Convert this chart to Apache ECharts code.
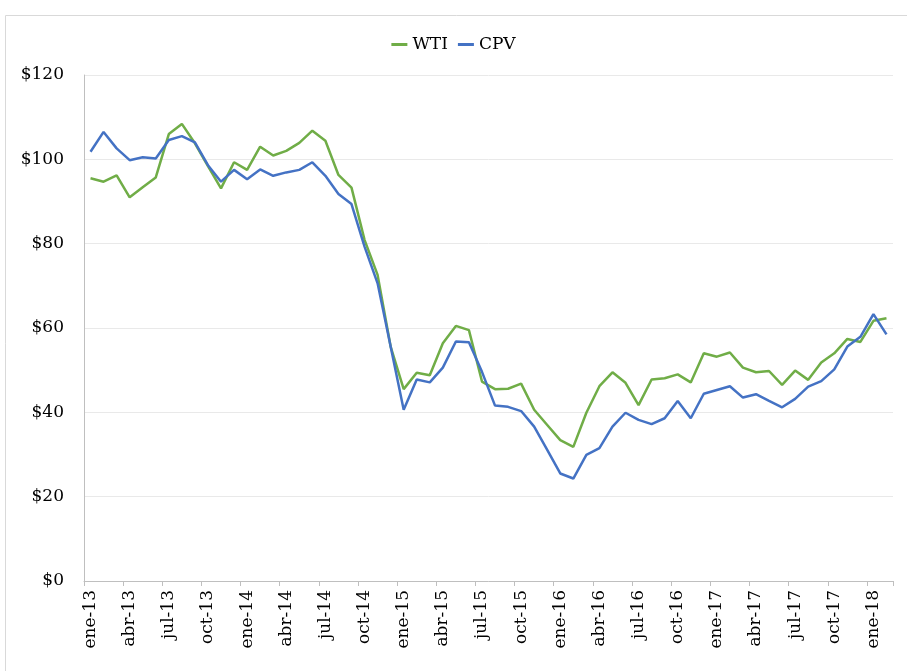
<!DOCTYPE html>
<html>
<head>
<meta charset="utf-8">
<script src="https://cdn.jsdelivr.net/npm/echarts@6/dist/echarts.min.js"></script>
<style>
  html, body { margin: 0; padding: 0; background: #fff; }
  #chart { width: 907px; height: 671px; }
</style>
</head>
<body>
<div id="chart"></div>
<script>
// meses ene-13 .. feb-18
var meses = ['ene', 'feb', 'mar', 'abr', 'may', 'jun', 'jul', 'ago', 'sep', 'oct', 'nov', 'dic']
var anios = ['13', '14', '15', '16', '17', '18']
var categorias = []
anios.forEach(function (a) {
  meses.forEach(function (m) { categorias.push(m + '-' + a) })
})
categorias = categorias.slice(0, 62)

var wti = [
  95.5, 94.7, 96.2, 91.0, 93.4, 95.7, 106.0, 108.4, 103.8, 98.4, 93.1, 99.3,
  97.5, 103.0, 100.9, 102.0, 103.9, 106.8, 104.4, 96.3, 93.3, 80.9, 72.6, 55.6,
  45.5, 49.4, 48.8, 56.4, 60.5, 59.5, 47.3, 45.5, 45.6, 46.8, 40.6, 37.0,
  33.4, 31.8, 39.9, 46.2, 49.5, 47.0, 41.7, 47.8, 48.1, 49.0, 47.1, 54.0,
  53.2, 54.2, 50.6, 49.5, 49.8, 46.5, 49.9, 47.7, 51.8, 54.0, 57.4, 56.7,
  61.7, 62.3
]
var cpv = [
  101.8, 106.5, 102.6, 99.8, 100.5, 100.2, 104.6, 105.5, 104.0, 98.6, 94.7, 97.5,
  95.3, 97.6, 96.1, 96.9, 97.5, 99.3, 96.1, 91.8, 89.4, 79.3, 70.6, 55.6,
  40.6, 47.8, 47.1, 50.6, 56.8, 56.6, 49.6, 41.6, 41.3, 40.3, 36.6, 31.1,
  25.5, 24.3, 29.9, 31.5, 36.6, 39.9, 38.2, 37.2, 38.6, 42.7, 38.6, 44.4,
  45.3, 46.2, 43.5, 44.3, 42.7, 41.2, 43.2, 46.1, 47.4, 50.2, 55.6, 57.9,
  63.3, 58.5
]

var fuente = 'Georgia, "DejaVu Serif", serif'

var chart = echarts.init(document.getElementById('chart'))
chart.setOption({
  animation: false,
  color: ['#70ad47', '#4472c4'],
  graphic: [{
    type: 'rect',
    shape: { x: 5.5, y: 15.5, width: 1000, height: 800 },
    style: { fill: 'none', stroke: '#d9d9d9', lineWidth: 1 },
    silent: true
  }],
  grid: { left: 84, right: 14, top: 75, bottom: 90 },
  legend: {
    top: 31,
    left: 'center',
    icon: 'rect',
    itemWidth: 16,
    itemHeight: 3,
    itemGap: 10,
    textStyle: { fontFamily: fuente, fontSize: 17, color: '#000' },
    data: ['WTI', 'CPV']
  },
  xAxis: {
    type: 'category',
    data: categorias,
    boundaryGap: true,
    axisLine: { lineStyle: { color: '#bfbfbf' } },
    axisTick: { show: true, interval: 2, length: 5, lineStyle: { color: '#bfbfbf' } },
    axisLabel: {
      interval: 2,
      rotate: 90,
      margin: 9,
      fontFamily: fuente,
      fontSize: 17,
      color: '#000'
    }
  },
  yAxis: {
    type: 'value',
    min: 0,
    max: 120,
    interval: 20,
    axisLine: { show: true, lineStyle: { color: '#bfbfbf' } },
    axisTick: { show: false },
    splitLine: { lineStyle: { color: '#e9e9e9' } },
    axisLabel: {
      margin: 20,
      fontFamily: fuente,
      fontSize: 17,
      color: '#000',
      formatter: function (v) { return '$' + v }
    }
  },
  series: [
    {
      name: 'WTI',
      type: 'line',
      data: wti,
      showSymbol: false,
      lineStyle: { width: 2.5 }
    },
    {
      name: 'CPV',
      type: 'line',
      data: cpv,
      showSymbol: false,
      lineStyle: { width: 2.5 }
    }
  ]
})
</script>
</body>
</html>
